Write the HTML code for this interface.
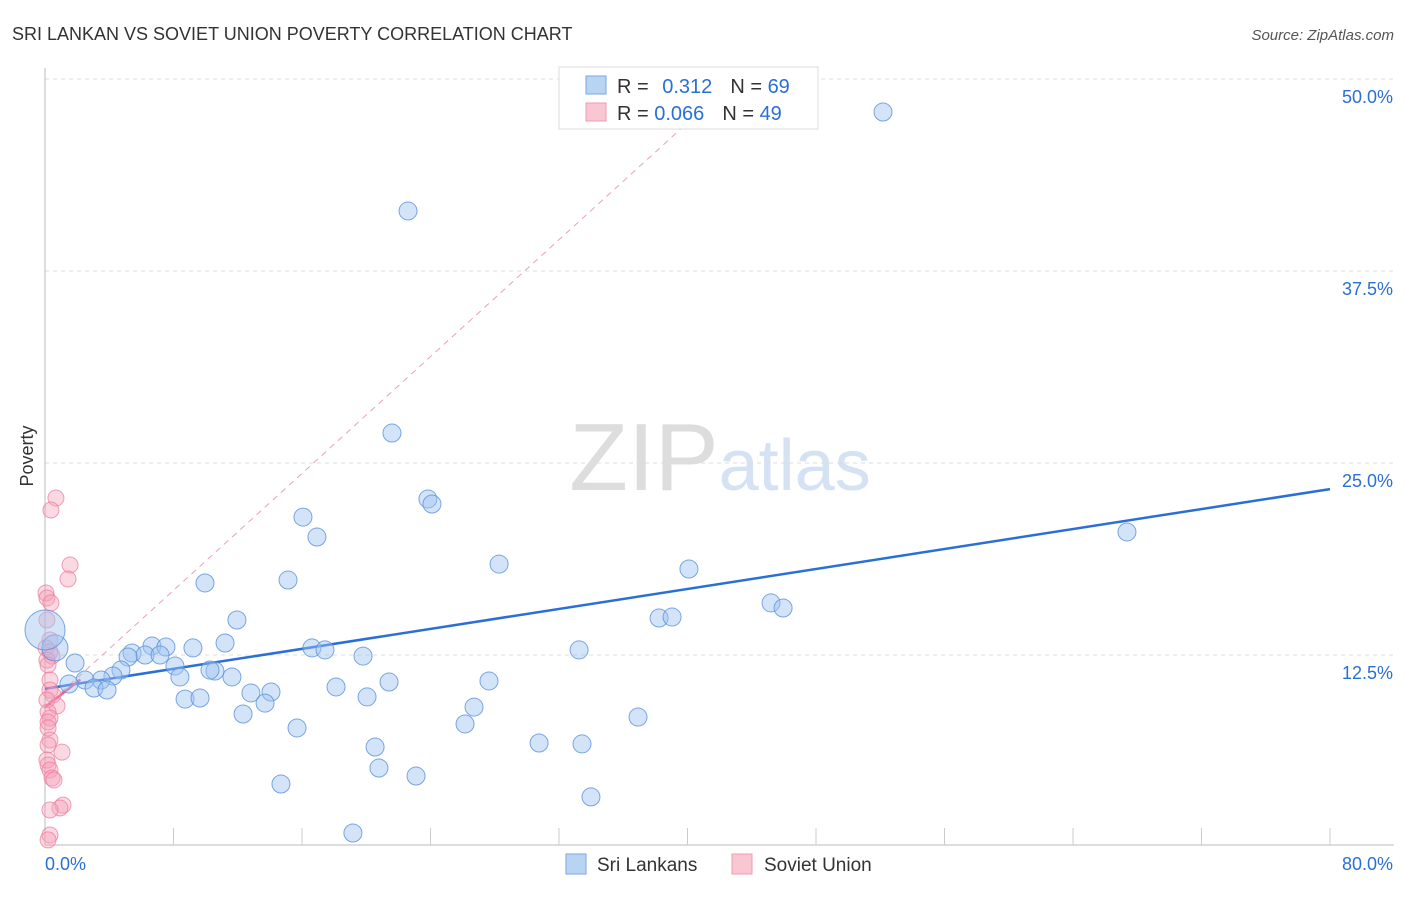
<!DOCTYPE html>
<html><head><meta charset="utf-8"><style>
body{margin:0;background:#fff;font-family:"Liberation Sans",sans-serif}
svg text{font-family:"Liberation Sans",sans-serif}
</style></head><body>
<svg id="chart" width="1406" height="892" xmlns="http://www.w3.org/2000/svg">
<text x="12" y="40" font-size="18" fill="#333">SRI LANKAN VS SOVIET UNION POVERTY CORRELATION CHART</text>
<text x="1394" y="40" font-size="15" fill="#555" text-anchor="end" font-style="italic">Source: ZipAtlas.com</text>
<text x="720" y="490" font-size="96" text-anchor="middle" fill="#e6e6e6" font-family="Liberation Serif"><tspan fill="#ddd">ZIP</tspan><tspan fill="#d4e2f4" font-family="Liberation Sans" font-size="72">atlas</tspan></text>
<text transform="translate(33,456) rotate(-90)" font-size="18" fill="#333" text-anchor="middle">Poverty</text>
<g id="grid"></g><g id="axes"></g><g id="trend"></g><g id="pts"></g>
<g>
<rect x="559" y="67" width="259" height="62" fill="#fff" stroke="#ddd"/>
<rect x="586" y="76" width="20" height="18" fill="#b9d3f3" stroke="#7aa7e0"/>
<rect x="586" y="103" width="20" height="18" fill="#f9c7d4" stroke="#f19ab1"/>
<text x="617" y="93" font-size="20" fill="#333">R = <tspan fill="#2a6fd6" dx="8">0.312</tspan><tspan fill="#333" dx="18">N = </tspan><tspan fill="#2a6fd6">69</tspan></text>
<text x="617" y="120" font-size="20" fill="#333">R = <tspan fill="#2a6fd6">0.066</tspan><tspan fill="#333" dx="18">N = </tspan><tspan fill="#2a6fd6">49</tspan></text>
</g>
<g>
<rect x="566" y="854" width="20" height="20" fill="#b9d3f3" stroke="#7aa7e0"/>
<text x="597" y="871" font-size="19" fill="#333">Sri Lankans</text>
<rect x="732" y="854" width="20" height="20" fill="#f9c7d4" stroke="#f19ab1"/>
<text x="764" y="871" font-size="19" fill="#333">Soviet Union</text>
</g>
</svg>
<script>
const yTicks=[12.5,25,37.5,50];
const yTickLabels=["12.5%","25.0%","37.5%","50.0%"];
const xTickLabels=["0.0%","80.0%"];
const blueX=[52.17,22.60,21.60,23.84,24.09,16.06,16.93,28.27,67.36,40.09,9.96,15.13,11.95,38.23,39.04,45.20,45.95,33.25,19.80,16.62,17.43,9.21,11.21,6.66,7.53,5.42,6.23,5.17,7.16,8.09,4.73,4.23,3.49,2.49,3.05,3.86,1.49,8.40,10.58,10.27,11.64,18.12,21.42,27.64,12.82,14.07,13.70,8.72,9.65,20.05,12.33,36.92,26.71,15.69,26.15,30.76,33.43,20.55,20.79,23.10,14.69,33.99,19.17,1.87,0.62,0];
const blueY=[47.85,41.41,26.95,22.66,22.33,21.48,20.18,18.42,20.51,18.10,17.19,17.38,14.78,14.91,14.97,15.89,15.56,12.83,12.43,12.96,12.83,12.96,13.28,13.09,13.02,12.63,12.50,12.37,12.50,11.78,11.52,11.13,10.87,10.87,10.35,10.22,10.61,11.07,11.46,11.52,11.07,10.42,10.74,10.81,10.03,10.09,9.37,9.63,9.70,9.77,8.66,8.46,9.11,7.75,8.01,6.77,6.71,6.51,5.14,4.62,4.10,3.26,0.91,11.98,12.96,14.13];
const pinkX=[0.68,0.37,1.56,1.43,0.06,0.12,0.37,0.12,0.31,0.06,0.31,0.44,0.12,0.19,0.31,0.31,0.50,0.12,0.75,0.19,0.31,0.19,0.19,0.31,0.19,1.06,0.12,0.19,0.31,0.44,0.56,1.12,0.93,0.31,0.31,0.19];
const pinkY=[22.72,21.94,18.36,17.45,16.54,16.21,15.89,14.78,13.48,12.96,12.70,12.43,12.17,11.85,10.87,10.22,9.90,9.57,9.18,8.79,8.40,8.14,7.75,6.97,6.64,6.18,5.66,5.34,5.01,4.49,4.36,2.73,2.54,2.41,0.78,0.46];
const blueTrend=[[0,10.3],[80,23.3]];
const pinkTrend=[[0,9.1],[2.2,10.9]];
const pinkDash=[[0,9.1],[43,50]];
const X0=45,X1=1330,Y0=847,PY=192/12.5;
const sx=v=>X0+v/80*(X1-X0), sy=v=>Y0-v*PY;
const NS="http://www.w3.org/2000/svg";
function mk(parent,tag,attrs){const e=document.createElementNS(NS,tag);for(const k in attrs)e.setAttribute(k,attrs[k]);document.getElementById(parent).appendChild(e);return e;}
yTicks.forEach((t,i)=>{
 const l=mk('grid','line',{x1:45,x2:1394,y1:sy(t),y2:sy(t),stroke:'#ddd','stroke-dasharray':'4,4'});
 
 
 const tx=mk('grid','text',{x:1393,y:sy(t)+24,'font-size':18,fill:'#2a6fd6','text-anchor':'end'});
 tx.textContent=yTickLabels[i];
 
 
});
const ax=mk('axes','line',{x1:45,x2:1394,y1:845,y2:845,stroke:'#bbb'});


const ay=mk('axes','line',{x1:45,x2:45,y1:68,y2:845,stroke:'#bbb'});


for(let i=1;i<=10;i++){const tk=mk('axes','line',{x1:sx(i*8),x2:sx(i*8),y1:828,y2:845,stroke:'#ccc'});
 
 }
[[0,'start',45],[80,'end',1393]].forEach((d,i)=>{const t=mk('axes','text',{x:d[2],y:870,'font-size':18,fill:'#2a6fd6','text-anchor':d[1]});t.textContent=xTickLabels[i];
 
 });
function line(p,st,w,dash,name){const l=mk('trend','line',{x1:sx(p[0][0]),y1:sy(p[0][1]),x2:sx(p[1][0]),y2:sy(p[1][1]),stroke:st,'stroke-width':w});if(dash)l.setAttribute('stroke-dasharray',dash);
 
 }
line(pinkDash,'#eaa0b4',1,'6,5','soviet-union-dashed-trend');
line(blueTrend,'#2a6fd6',2.5,null,'sri-lankans-trend-line');
line(pinkTrend,'#e8608a',2.5,null,'soviet-union-trend-line');
pinkX.forEach((x,i)=>{const c=mk('pts','circle',{cx:sx(x),cy:sy(pinkY[i]),r:8,fill:'rgba(246,160,185,0.4)',stroke:'rgba(236,120,155,0.7)','stroke-width':1});
 
 });
blueX.forEach((x,i)=>{const r=i==blueX.length-1?20:(i==blueX.length-2?13:9);const c=mk('pts','circle',{cx:sx(x),cy:sy(blueY[i]),r:r,fill:'rgba(160,196,240,0.45)',stroke:'rgba(90,145,220,0.8)','stroke-width':1});
 
 });
</script>
</body></html>
